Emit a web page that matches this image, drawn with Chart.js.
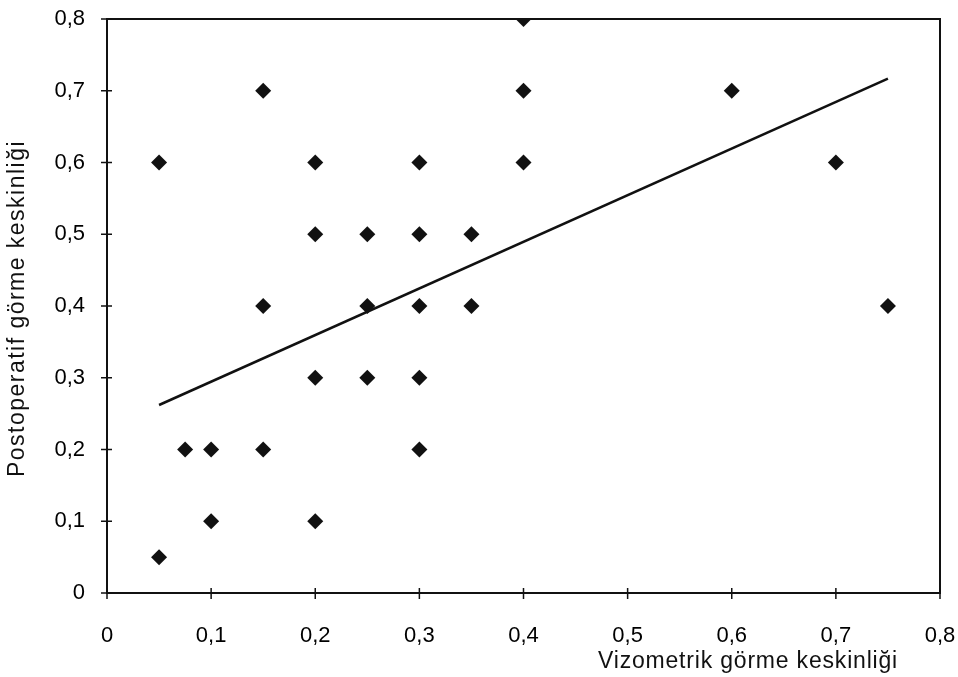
<!DOCTYPE html>
<html>
<head>
<meta charset="utf-8">
<script src="https://cdn.jsdelivr.net/npm/chart.js@4/dist/chart.umd.min.js"></script>
<style>
  html, body { margin: 0; padding: 0; background: #fff; }
  #wrap { position: relative; width: 958px; height: 677px; }
</style>
</head>
<body>
<div id="wrap"><canvas id="c"></canvas></div>
<script>
// scatter points: vizometrik (x) vs postoperatif (y)
const xValues = [0.05, 0.05, 0.075, 0.1, 0.1, 0.15, 0.15, 0.15, 0.2, 0.2, 0.2, 0.2,
  0.25, 0.25, 0.25, 0.3, 0.3, 0.3, 0.3, 0.3, 0.35, 0.35, 0.4, 0.4, 0.4, 0.6, 0.7, 0.75];
const yValues = [0.6, 0.05, 0.2, 0.2, 0.1, 0.7, 0.4, 0.2, 0.6, 0.5, 0.3, 0.1,
  0.5, 0.4, 0.3, 0.6, 0.5, 0.4, 0.3, 0.2, 0.5, 0.4, 0.8, 0.7, 0.6, 0.7, 0.6, 0.4];
// linear trend line end points
const trendX = [0.05, 0.75];
const trendY = [0.262, 0.717];
const tickValues = [0, 0.1, 0.2, 0.3, 0.4, 0.5, 0.6, 0.7, 0.8];
const xTitle = 'Vizometrik görme keskinliği';
const yTitle = 'Postoperatif görme keskinliği';

const FONT = "'Liberation Sans', Arial, sans-serif";
const fmt = v => String(Math.round(v * 10) / 10).replace('.', ',');

const points = xValues.map((x, i) => ({ x, y: yValues[i] }));
const trend = trendX.map((x, i) => ({ x, y: trendY[i] }));

// stretch text a little to match the scanned lettering
function spacedText(ctx, text, x, y, width) {
  ctx.letterSpacing = '0px';
  const w = ctx.measureText(text).width;
  ctx.letterSpacing = Math.max(0, (width - w) / text.length) + 'px';
  ctx.fillText(text, x, y);
  ctx.letterSpacing = '0px';
}

// frame around plot, ticks crossing axes, axis titles
const frame = {
  id: 'frame',
  afterDraw(chart) {
    const { ctx, chartArea: a, scales } = chart;
    ctx.save();
    ctx.strokeStyle = '#111';
    ctx.lineWidth = 2;
    ctx.strokeRect(a.left, a.top, a.right - a.left, a.bottom - a.top);
    ctx.lineWidth = 1.5;
    ctx.beginPath();
    tickValues.forEach(v => {
      const px = scales.x.getPixelForValue(v);
      ctx.moveTo(px, a.bottom - 5); ctx.lineTo(px, a.bottom + 6);
      const py = scales.y.getPixelForValue(v);
      ctx.moveTo(a.left - 6, py); ctx.lineTo(a.left + 5, py);
    });
    ctx.stroke();
    ctx.fillStyle = '#111';
    ctx.font = '23px ' + FONT;
    ctx.textAlign = 'left';
    ctx.textBaseline = 'middle';
    spacedText(ctx, xTitle, 598, 662, 300);
    ctx.translate(18, 477);
    ctx.rotate(-Math.PI / 2);
    spacedText(ctx, yTitle, 0, 0, 337);
    ctx.restore();
  }
};

new Chart(document.getElementById('c'), {
  type: 'scatter',
  data: {
    datasets: [
      {
        data: points,
        pointStyle: 'rectRot',
        pointRadius: 8,
        backgroundColor: '#111',
        borderColor: '#111',
        borderWidth: 0,
      },
      {
        type: 'line',
        data: trend,
        showLine: true,
        pointRadius: 0,
        borderColor: '#111',
        borderWidth: 2.5,
        fill: false,
      },
    ],
  },
  options: {
    responsive: true,
    maintainAspectRatio: false,
    animation: false,
    layout: { padding: { left: 0, right: 18, top: 19, bottom: 0 } },
    plugins: { legend: { display: false }, tooltip: { enabled: false } },
    scales: {
      x: {
        type: 'linear', min: 0, max: 0.8,
        afterBuildTicks: s => { s.ticks = tickValues.map(value => ({ value })); },
        afterFit: s => { s.height = 84; s.paddingLeft = 0; s.paddingRight = 0; },
        grid: { display: false },
        border: { display: false },
        ticks: {
          color: '#000', padding: 22,
          font: { family: FONT, size: 22 },
          callback: fmt,
        },
      },
      y: {
        type: 'linear', min: 0, max: 0.8,
        afterBuildTicks: s => { s.ticks = tickValues.map(value => ({ value })); },
        afterFit: s => { s.width = 107; s.paddingTop = 0; s.paddingBottom = 0; },
        grid: { display: false },
        border: { display: false },
        ticks: {
          color: '#000', padding: 14,
          font: { family: FONT, size: 22 },
          callback: fmt,
        },
      },
    },
  },
  plugins: [frame],
});
</script>
</body>
</html>
